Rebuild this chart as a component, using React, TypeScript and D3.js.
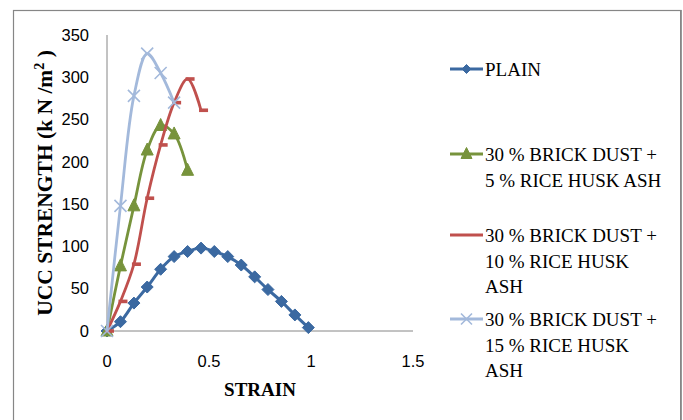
import React from "react";
import * as d3 from "d3";

const yTicks = [0, 50, 100, 150, 200, 250, 300, 350];
const xTicks = [0, 0.5, 1, 1.5];

const strainPlain = [0, 0.066, 0.132, 0.197, 0.263, 0.329, 0.395, 0.461, 0.526, 0.592, 0.658, 0.724, 0.789, 0.855, 0.921, 0.987];
const ucsPlain = [0, 11, 33, 52, 73, 88, 94, 98, 94, 88, 78, 64, 49, 35, 19, 4];

const strainBd5 = [0, 0.066, 0.132, 0.197, 0.263, 0.329, 0.395];
const ucsBd5 = [0, 77, 148, 214, 243, 233, 190];

const strainBd10 = [0, 0.066, 0.132, 0.197, 0.263, 0.329, 0.395, 0.461];
const ucsBd10 = [0, 35, 79, 157, 220, 270, 298, 261];

const strainBd15 = [0, 0.066, 0.132, 0.197, 0.263, 0.329];
const ucsBd15 = [0, 148, 278, 328, 305, 270];

const legendLabels = [
  ["PLAIN"],
  ["30 % BRICK DUST +", "5 % RICE HUSK ASH"],
  ["30 % BRICK DUST +", "10 % RICE HUSK", "ASH"],
  ["30 % BRICK DUST +", "15 % RICE HUSK", "ASH"],
];

const C_PLAIN = "#3b69a1";
const C_5 = "#77933c";
const C_10 = "#c0504d";
const C_15 = "#a3b9db";

type Pt = [number, number];

function Marker({ kind, x, y, color, size }: { kind: string; x: number; y: number; color: string; size: number }) {
  const h = size / 2;
  if (kind === "diamond") {
    return <path d={`M${x},${y - h}L${x + h},${y}L${x},${y + h}L${x - h},${y}Z`} fill={color} stroke={color} strokeWidth={1} />;
  }
  if (kind === "triangle") {
    return <path d={`M${x},${y - h - 1}L${x + h},${y + h - 1}L${x - h},${y + h - 1}Z`} fill={color} stroke={color} strokeWidth={1} />;
  }
  if (kind === "x") {
    return (
      <path d={`M${x - h},${y - h}L${x + h},${y + h}M${x - h},${y + h}L${x + h},${y - h}`} stroke={color} strokeWidth={1.6} fill="none" />
    );
  }
  if (kind === "dash") {
    return <rect x={x - 2} y={y - 1.8} width={9} height={3.6} fill={color} />;
  }
  return null;
}

export default function App() {
  const x = d3.scaleLinear().domain([0, 1.5]).range([107, 413]);
  const y = d3.scaleLinear().domain([0, 350]).range([331, 35]);
  const line = d3
    .line<Pt>()
    .x((d) => x(d[0]))
    .y((d) => y(d[1]))
    .curve(d3.curveCatmullRom.alpha(0.5));

  const series = [
    { xs: strainPlain, ys: ucsPlain, color: C_PLAIN, kind: "diamond", size: 12, w: 3 },
    { xs: strainBd5, ys: ucsBd5, color: C_5, kind: "triangle", size: 12, w: 2.8 },
    { xs: strainBd10, ys: ucsBd10, color: C_10, kind: "dash", size: 9, w: 2.8 },
    { xs: strainBd15, ys: ucsBd15, color: C_15, kind: "x", size: 12, w: 2.8 },
  ];

  const legendY = [69, 154, 235, 319];
  const lineGap = 25.7;

  return (
    <svg
      width={683}
      height={420}
      style={{ position: "fixed", left: 0, top: 0, background: "#fff" }}
    >
      <rect x={0} y={0} width={683} height={420} fill="#fff" />
      <rect x={13.5} y={10.5} width={667.5} height={430} fill="none" stroke="#868686" strokeWidth={1.2} />
      <line x1={680.8} x2={680.8} y1={10} y2={420} stroke="#868686" strokeWidth={1.6} />

      {/* axes */}
      <line x1={x(0)} x2={x(0)} y1={y(350)} y2={y(0)} stroke="#868686" strokeWidth={1} />
      <line x1={x(0)} x2={x(1.5)} y1={y(0)} y2={y(0)} stroke="#868686" strokeWidth={1} />

      {yTicks.map((t) => (
        <text key={t} x={89} y={y(t)} dy="0.35em" textAnchor="end" fontFamily="'Liberation Sans', Arial, sans-serif" fontSize={16.5} fill="#000">
          {t}
        </text>
      ))}
      {xTicks.map((t) => (
        <text key={t} x={x(t)} y={367} textAnchor="middle" fontFamily="'Liberation Sans', Arial, sans-serif" fontSize={16.5} fill="#000">
          {t}
        </text>
      ))}

      <text x={260} y={396} textAnchor="middle" fontFamily="'Liberation Serif', 'Times New Roman', serif" fontWeight="bold" fontSize={19} fill="#000">
        STRAIN
      </text>
      <text
        transform="translate(52,183) rotate(-90)"
        textAnchor="middle"
        fontFamily="'Liberation Serif', 'Times New Roman', serif"
        fontWeight="bold"
        fontSize={21.5}
        fill="#000"
      >
        UCC STRENGTH (k N /m<tspan dy={-8} fontSize={14}>2</tspan>
        <tspan dy={8}> )</tspan>
      </text>

      {series.map((s, i) => {
        const pts: Pt[] = s.xs.map((v, j) => [v, s.ys[j]]);
        return (
          <g key={i}>
            <path d={line(pts) || ""} fill="none" stroke={s.color} strokeWidth={s.w} strokeLinejoin="round" />
            {pts.map((p, j) => (
              <Marker key={j} kind={s.kind} x={x(p[0])} y={y(p[1])} color={s.color} size={s.size} />
            ))}
          </g>
        );
      })}

      {series.map((s, i) => (
        <g key={"lg" + i}>
          <line x1={450} x2={483} y1={legendY[i]} y2={legendY[i]} stroke={s.color} strokeWidth={3} />
          {s.kind !== "dash" && (
            <Marker kind={s.kind} x={466.5} y={legendY[i]} color={s.color} size={s.kind === "diamond" ? 9 : 11} />
          )}
          {legendLabels[i].map((l, k) => (
            <text
              key={k}
              x={485}
              y={legendY[i] + 7 + k * lineGap}
              fontFamily="'Liberation Serif', 'Times New Roman', serif"
              fontSize={19}
              fill="#000"
            >
              {l}
            </text>
          ))}
        </g>
      ))}
    </svg>
  );
}
